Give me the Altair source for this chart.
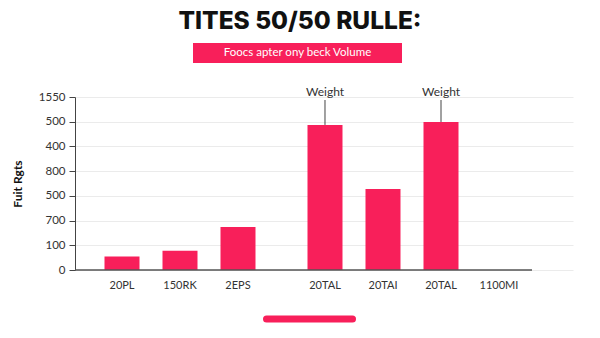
import altair as alt
import pandas as pd

# ---- data ----
categories = ["20PL", "150RK", "2EPS", "20TAL", "20TAI", "20TAL", "1100MI"]
values = [55, 78, 174, 587, 328, 599, None]
gaps_after = [1, 1, 2, 1, 1, 1, 2]          # empty half-slots after each category
leading_gaps = 1
annotations = ["", "", "", "Weight", "", "Weight", ""]
y_tick_values = [0, 100, 200, 300, 400, 500, 600, 700]
y_tick_labels = ["0", "100", "700", "500", "800", "400", "500", "1550"]
title_text = "TITES 50/50 RULLE:"
subtitle_text = "Foocs apter ony beck Volume"
y_title = "Fuit Rgts"

PINK = "#F81F5A"
FONT = "Lato"

# band domain: category keys interleaved with spacer keys
keys = [f"{c}{' ' * i}" for i, c in enumerate(categories)]
domain = []
sp = 0
for _ in range(leading_gaps):
    domain.append(f"_{sp}")
    sp += 1
for k, g in zip(keys, gaps_after):
    domain.append(k)
    for _ in range(g):
        domain.append(f"_{sp}")
        sp += 1

df = pd.DataFrame({"key": keys, "label": categories, "value": values, "note": annotations})
bars_df = df.dropna(subset=["value"])
notes_df = df[df["note"] != ""]

W, H = 498, 173

xscale = alt.Scale(domain=domain, paddingInner=0, paddingOuter=0.0862, align=0.7)
yscale = alt.Scale(domain=[0, 700], nice=False)

label_array = "[" + ",".join(f"'{t}'" for t in y_tick_labels) + "]"

x_axis = alt.Axis(
    title=None, domain=False, ticks=False, labelAngle=0, labelFontSize=11,
    labelColor="#333", labelFont=FONT, labelPadding=9, labelOverlap=False,
    labelExpr="slice(datum.value,0,1)=='_' ? '' : trim(datum.value)",
)
y_axis = alt.Axis(
    title=y_title, values=y_tick_values, labelExpr=f"{label_array}[round(datum.value/100)]",
    grid=True, gridColor="#ebebeb", domainColor="#444", tickColor="#444", tickSize=6,
    labelFontSize=11.5, labelColor="#333", labelFont=FONT, labelPadding=4,
    labelOverlap=False, labelFlush=False,
    titleFont=FONT, titleFontWeight="bold", titleFontSize=12, titleColor="#111",
    titlePadding=14,
)

X = alt.X("key:N", scale=xscale, axis=x_axis, sort=domain)

bars = alt.Chart(bars_df).mark_bar(color=PINK, size=35).encode(
    x=X,
    y=alt.Y("value:Q", scale=yscale, axis=y_axis),
)

# x-axis line (shorter than the grid)
base = alt.Chart(pd.DataFrame({"value": [0]})).mark_rule(color="#555", strokeWidth=1.5).encode(
    y=alt.Y("value:Q", scale=yscale, axis=y_axis), x=alt.value(0), x2=alt.value(457)
)

lines = alt.Chart(notes_df).mark_rule(color="#444", strokeWidth=1).encode(
    x=X,
    y=alt.Y("value:Q", scale=yscale, axis=y_axis),
    y2=alt.value(3),
)
notes = alt.Chart(notes_df).mark_text(
    font=FONT, fontSize=12, color="#333", baseline="middle", dy=0
).encode(
    x=X,
    y=alt.value(-5),
    text="note:N",
)

title = alt.Chart(pd.DataFrame({"t": [title_text]})).mark_text(
    font="Inter", fontSize=24.5, fontWeight=800, color="#111", baseline="middle", align="center"
).encode(x=alt.value(225), y=alt.value(-75), text="t:N")

sub_box = alt.Chart(pd.DataFrame({"t": [subtitle_text]})).mark_rect(color=PINK).encode(
    x=alt.value(118), x2=alt.value(327), y=alt.value(-54), y2=alt.value(-34)
)
sub_text = alt.Chart(pd.DataFrame({"t": [subtitle_text]})).mark_text(
    font=FONT, fontSize=11.5, color="white", baseline="middle", align="center"
).encode(x=alt.value(222.5), y=alt.value(-44), text="t:N")

bottom_bar = alt.Chart(pd.DataFrame({"t": [0]})).mark_rule(
    color=PINK, strokeWidth=7, strokeCap="round"
).encode(x=alt.value(191.5), x2=alt.value(277.5), y=alt.value(222))

chart = alt.layer(
    bars, base, lines, notes, title, sub_box, sub_text, bottom_bar
).properties(
    width=W, height=H,
    autosize=alt.AutoSizeParams(type="none"),
    padding={"left": 75, "top": 97, "right": 27, "bottom": 68},
    background="white",
).configure_view(stroke=None)

chart.save("out.html", embed_options={"renderer": "svg", "actions": False})
